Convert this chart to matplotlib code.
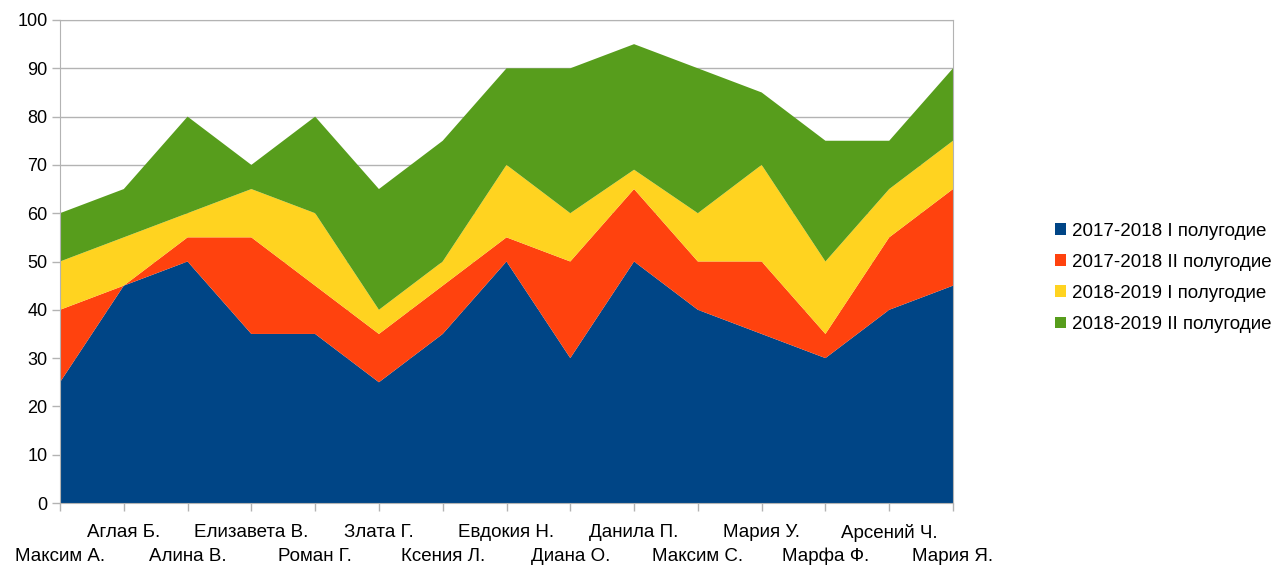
import numpy as np
import matplotlib.pyplot as plt
import matplotlib.transforms as mtransforms
from matplotlib.patches import Patch

plt.rcParams['font.family'] = ['Liberation Sans', 'DejaVu Sans']

students = ['Максим А.', 'Аглая Б.', 'Алина В.', 'Елизавета В.', 'Роман Г.',
            'Злата Г.', 'Ксения Л.', 'Евдокия Н.', 'Диана О.', 'Данила П.',
            'Максим С.', 'Мария У.', 'Марфа Ф.', 'Арсений Ч.', 'Мария Я.']
s1718_1 = [25, 45, 50, 35, 35, 25, 35, 50, 30, 50, 40, 35, 30, 40, 45]
s1718_2 = [15, 0, 5, 20, 10, 10, 10, 5, 20, 15, 10, 15, 5, 15, 20]
s1819_1 = [10, 10, 5, 10, 15, 5, 5, 15, 10, 4, 10, 20, 15, 10, 10]
s1819_2 = [10, 10, 20, 5, 20, 25, 25, 20, 30, 26, 30, 15, 25, 10, 15]
series_names = ['2017-2018 I полугодие', '2017-2018 II полугодие',
                '2018-2019 I полугодие', '2018-2019 II полугодие']
colors = ['#004586', '#ff420e', '#ffd320', '#579d1c']

fig = plt.figure(figsize=(12.77, 5.65), dpi=100)
ax = fig.add_axes([60/1277, 1 - 503/565, 893/1277, 483/565])

x = np.arange(len(students))
ax.stackplot(x, s1718_1, s1718_2, s1819_1, s1819_2, colors=colors,
             linewidth=0, zorder=2)

ax.set_xlim(0, len(students) - 1)
ax.set_ylim(0, 100)
ax.set_yticks(range(0, 101, 10))
ax.grid(axis='y', color='#b3b3b3', linewidth=1, zorder=0)
for s in ax.spines.values():
    s.set_color('#b3b3b3')
    s.set_zorder(3)
ax.tick_params(axis='both', colors='#b3b3b3', labelcolor='#000000',
               labelsize=13, length=6, width=1)
ax.tick_params(axis='y', pad=3)
ax.tick_params(axis='x', pad=9, labelsize=13.5)

ax.set_xticks(x)
ax.set_xticklabels(students)
# every other label goes one row lower, like the staggered labels of the original
shift = mtransforms.ScaledTranslation(0, -24/100, fig.dpi_scale_trans)
for i, lbl in enumerate(ax.get_xticklabels()):
    if i % 2 == 0:
        lbl.set_transform(lbl.get_transform() + shift)

handles = [Patch(facecolor=c, edgecolor='none') for c in colors]
fig.legend(handles, series_names, loc='center left',
           bbox_to_anchor=(1038/1277, 1 - 278/565), frameon=False,
           fontsize=13.5, handlelength=0.6, handleheight=0.6,
           handletextpad=0.3, labelspacing=0.75)

fig.savefig('out.png', dpi=100)
